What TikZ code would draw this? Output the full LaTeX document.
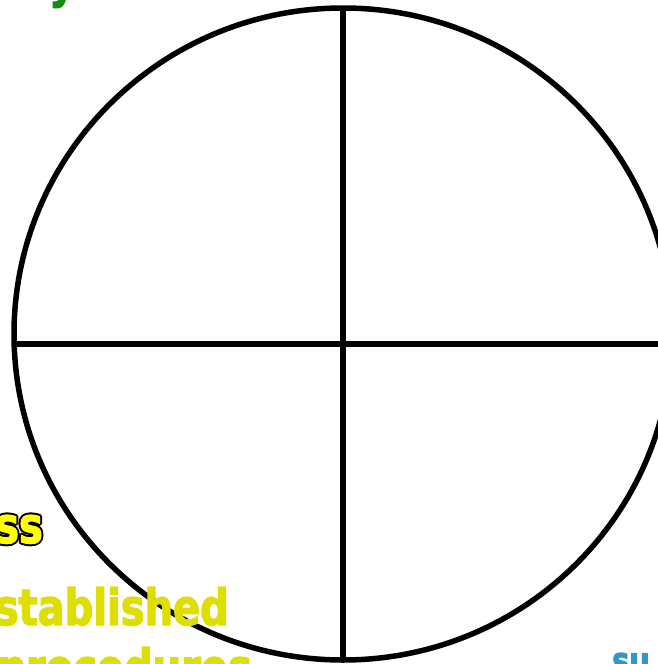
\documentclass[tikz,border=0pt]{standalone}
\usepackage{fontspec}
\newfontfamily\tah{DejaVu Sans}[FakeStretch=0.8,FakeBold=2.5]
\definecolor{grn}{RGB}{20,140,20}
\definecolor{olive}{RGB}{222,222,0}
\definecolor{yel}{RGB}{255,255,0}
\definecolor{blu}{RGB}{50,150,200}
\tikzset{
  ring/.style={line width=5.5pt, draw=black},
  bigtxt/.style={inner sep=0pt, font=\tah\bfseries\fontsize{50}{60}\selectfont},
  smalltxt/.style={inner sep=0pt, font=\tah\bfseries\fontsize{36}{43}\selectfont}
}
\begin{document}
\begin{tikzpicture}[x=1pt,y=-1pt]
\useasboundingbox (0,0) rectangle (657,664);
% green text (clipped at top)
\node[bigtxt, text=grn, anchor=base west] (gy) at (49,-3) {y};
% circle and cross
\draw[ring] (343,334) ellipse [x radius=329, y radius=326];
\coordinate (top) at (343,8);
\coordinate (bot) at (343,660);
\coordinate (lft) at (14,344);
\coordinate (rgt) at (664,344);
\draw[ring] (top) -- (bot);
\draw[ring] (lft) -- (rgt);
% outlined yellow text
\foreach \dx/\dy in {-2/0,2/0,0/-2,0/2,-1.4/-1.4,1.4/-1.4,-1.4/1.4,1.4/1.4}{
  \node[bigtxt, text=black, anchor=base east] at (43+\dx,543+\dy) {ss};
}
\node[bigtxt, text=yel, anchor=base east] (ss) at (43,543) {ss};
% olive text
\node[bigtxt, text=olive, anchor=base east] (est) at (229,625) {stablished};
\node[bigtxt, text=olive, anchor=base east] (proc) at (252,685) {procedures};
% blue text
\node[smalltxt, text=blu, anchor=base west] (blu) at (612,673) {su};
\end{tikzpicture}
\end{document}
